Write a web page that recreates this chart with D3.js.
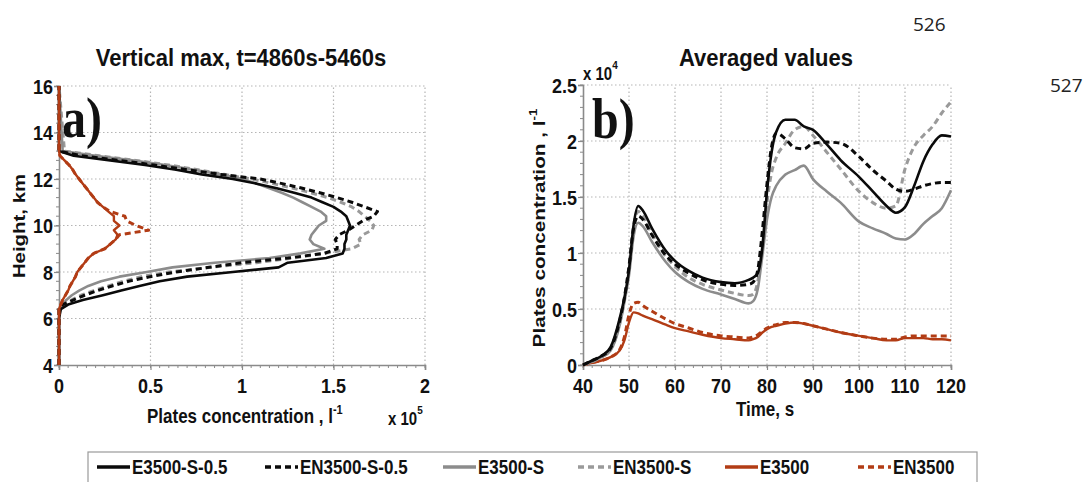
<!DOCTYPE html>
<html>
<head>
<meta charset="utf-8">
<script src="https://cdn.jsdelivr.net/npm/d3@7"></script>
<style>
  html, body { margin: 0; padding: 0; background: #fff; }
  svg { display: block; }
  .bold-sans { font-family: "Liberation Sans", Arial, sans-serif; font-weight: bold; fill: #111; }
  .panel-tag { font-family: "Liberation Serif", "Times New Roman", serif; font-weight: bold; font-size: 48px; fill: #111; }
  .page-num { font-family: "Open Sans", "Liberation Sans", sans-serif; font-size: 19px; fill: #222; }
</style>
</head>
<body>
<svg id="chart" width="1089" height="482"></svg>
<script>
// ---- Panel a: vertical profiles of plate concentration (x 1e5 per litre) ----
const heightsKm = [4, 6, 6.4, 6.6, 6.8, 7.0, 7.2, 7.4, 7.6, 7.8, 8.0, 8.2, 8.4, 8.6, 8.8, 9.0, 9.2, 9.4, 9.6, 9.8,
                   10.0, 10.2, 10.4, 10.6, 10.8, 11.0, 11.2, 11.4, 11.6, 11.8, 12.0, 12.2, 12.4, 12.6, 12.8, 13.0, 13.2, 16];

const profE3500S05  = [0, 0, 0.01, 0.05, 0.13, 0.24, 0.34, 0.44, 0.55, 0.7, 0.95, 1.2, 1.25, 1.46, 1.55, 1.56, 1.56, 1.57, 1.57, 1.58,
                       1.59, 1.58, 1.57, 1.54, 1.5, 1.44, 1.38, 1.29, 1.19, 1.08, 0.95, 0.78, 0.64, 0.47, 0.28, 0.08, 0, 0];
const profEN3500S05 = [0, 0, 0, 0.02, 0.08, 0.14, 0.21, 0.29, 0.38, 0.5, 0.64, 0.82, 1.0, 1.25, 1.45, 1.52, 1.52, 1.51, 1.53, 1.58,
                       1.62, 1.66, 1.72, 1.74, 1.67, 1.6, 1.52, 1.43, 1.33, 1.22, 1.1, 0.88, 0.7, 0.52, 0.33, 0.12, 0, 0];
const profE3500S    = [0, 0, 0, 0.02, 0.04, 0.07, 0.11, 0.16, 0.23, 0.33, 0.48, 0.62, 0.85, 1.15, 1.32, 1.45, 1.39, 1.37, 1.38, 1.4,
                       1.42, 1.46, 1.46, 1.43, 1.38, 1.33, 1.28, 1.22, 1.15, 1.08, 1.0, 0.88, 0.74, 0.58, 0.4, 0.2, 0.02, 0];
const profEN3500S   = [0, 0, 0, 0.03, 0.07, 0.12, 0.19, 0.27, 0.35, 0.45, 0.6, 0.83, 1.08, 1.28, 1.45, 1.6, 1.65, 1.64, 1.66, 1.71,
                       1.72, 1.7, 1.67, 1.64, 1.6, 1.54, 1.47, 1.38, 1.28, 1.17, 1.05, 0.9, 0.76, 0.6, 0.42, 0.22, 0.03, 0];
const profE3500     = [0, 0, 0, 0.01, 0.02, 0.035, 0.05, 0.06, 0.075, 0.09, 0.1, 0.12, 0.14, 0.16, 0.19, 0.25, 0.28, 0.31, 0.32, 0.3,
                       0.33, 0.3, 0.3, 0.27, 0.24, 0.21, 0.19, 0.17, 0.15, 0.13, 0.11, 0.09, 0.075, 0.055, 0.03, 0.005, 0, 0];
const profEN3500    = [0, 0, 0, 0.01, 0.02, 0.035, 0.05, 0.06, 0.075, 0.09, 0.1, 0.12, 0.14, 0.16, 0.19, 0.25, 0.28, 0.31, 0.33, 0.49,
                       0.42, 0.37, 0.36, 0.28, 0.24, 0.21, 0.19, 0.17, 0.15, 0.13, 0.11, 0.09, 0.075, 0.055, 0.03, 0.005, 0, 0];

// ---- Panel b: domain-averaged plate concentration (x 1e4 per litre) vs time ----
const timeSec = [40, 42, 44, 46, 48, 49, 50, 51, 52, 53, 55, 58, 60, 63, 66, 70, 73, 76, 77, 78,
                 79, 80, 81, 82, 84, 86, 88, 90, 93, 96, 100, 103, 106, 108, 110, 112, 114, 116, 118, 120];

const avgE3500S05  = [0, 0.04, 0.08, 0.16, 0.42, 0.6, 0.85, 1.25, 1.42, 1.38, 1.22, 1.02, 0.93, 0.84, 0.78, 0.74, 0.73, 0.76, 0.78, 0.82,
                      1.05, 1.55, 1.9, 2.08, 2.19, 2.19, 2.13, 2.1, 1.97, 1.83, 1.68, 1.55, 1.42, 1.36, 1.41, 1.6, 1.82, 1.97, 2.05, 2.04];
const avgEN3500S05 = [0, 0.04, 0.08, 0.15, 0.4, 0.6, 0.88, 1.22, 1.33, 1.3, 1.16, 0.98, 0.9, 0.82, 0.76, 0.72, 0.71, 0.72, 0.74, 0.85,
                      1.2, 1.62, 1.95, 2.07, 2.02, 1.94, 1.93, 1.98, 1.99, 1.98, 1.86, 1.74, 1.64, 1.57, 1.55, 1.57, 1.6, 1.62, 1.63, 1.63];
const avgE3500S    = [0, 0.03, 0.07, 0.13, 0.36, 0.56, 0.8, 1.15, 1.27, 1.24, 1.1, 0.92, 0.83, 0.74, 0.68, 0.63, 0.59, 0.55, 0.57, 0.68,
                      0.98, 1.3, 1.5, 1.6, 1.7, 1.74, 1.78, 1.66, 1.55, 1.45, 1.28, 1.22, 1.17, 1.13, 1.12, 1.17, 1.26, 1.33, 1.4, 1.56];
const avgEN3500S   = [0, 0.03, 0.07, 0.14, 0.38, 0.6, 0.88, 1.25, 1.37, 1.33, 1.17, 0.97, 0.88, 0.78, 0.72, 0.67, 0.64, 0.62, 0.63, 0.75,
                      1.05, 1.45, 1.72, 1.85, 1.98, 2.1, 2.13, 2.05, 1.9, 1.75, 1.55, 1.45, 1.4, 1.42, 1.75, 1.95, 2.05, 2.13, 2.25, 2.35];
const avgE3500     = [0, 0.02, 0.04, 0.07, 0.13, 0.22, 0.38, 0.47, 0.46, 0.44, 0.41, 0.36, 0.33, 0.3, 0.27, 0.24, 0.23, 0.22, 0.23, 0.25,
                      0.29, 0.32, 0.34, 0.35, 0.37, 0.38, 0.37, 0.35, 0.32, 0.29, 0.26, 0.24, 0.22, 0.22, 0.24, 0.24, 0.24, 0.23, 0.23, 0.22];
const avgEN3500    = [0, 0.02, 0.04, 0.07, 0.14, 0.25, 0.45, 0.55, 0.56, 0.53, 0.48, 0.41, 0.37, 0.33, 0.29, 0.26, 0.25, 0.24, 0.25, 0.27,
                      0.3, 0.33, 0.35, 0.36, 0.38, 0.38, 0.37, 0.35, 0.32, 0.29, 0.26, 0.24, 0.23, 0.23, 0.25, 0.26, 0.26, 0.26, 0.26, 0.26];

// ---- Tick values ----
const ticksAx = [0, 0.5, 1, 1.5, 2];
const ticksAy = [4, 6, 8, 10, 12, 14, 16];
const ticksBx = [40, 50, 60, 70, 80, 90, 100, 110, 120];
const ticksBy = [0, 0.5, 1, 1.5, 2, 2.5];

// ---- Series names and styling ----
const seriesNames = ["E3500-S-0.5", "EN3500-S-0.5", "E3500-S", "EN3500-S", "E3500", "EN3500"];
const seriesStyle = {
  "E3500-S-0.5":  { color: "#0a0a0a", dash: null,  width: 2.6 },
  "EN3500-S-0.5": { color: "#0a0a0a", dash: "6,4", width: 3 },
  "E3500-S":      { color: "#8c8c8c", dash: null,  width: 2.6 },
  "EN3500-S":     { color: "#9a9a9a", dash: "6,4", width: 3 },
  "E3500":        { color: "#b23c15", dash: null,  width: 2.4 },
  "EN3500":       { color: "#b23c15", dash: "6,4", width: 3 }
};
const profiles = {
  "E3500-S-0.5": profE3500S05, "EN3500-S-0.5": profEN3500S05, "E3500-S": profE3500S,
  "EN3500-S": profEN3500S, "E3500": profE3500, "EN3500": profEN3500
};
const averages = {
  "E3500-S-0.5": avgE3500S05, "EN3500-S-0.5": avgEN3500S05, "E3500-S": avgE3500S,
  "EN3500-S": avgEN3500S, "E3500": avgE3500, "EN3500": avgEN3500
};
// red profile sits on top in panel a (it runs along the zero axis)
const drawOrderA = ["EN3500-S", "E3500-S", "EN3500-S-0.5", "E3500-S-0.5", "EN3500", "E3500"];
const drawOrderB = ["E3500", "EN3500", "EN3500-S", "E3500-S", "EN3500-S-0.5", "E3500-S-0.5"];

const svg = d3.select("#chart");

const gridColor = "#b5b5b5";
const axisColor = "#8a8a8a";
const STRETCH = 1.18; // vertical stretch of lettering

// Bold sans text, stretched vertically
function hText(x, y, size, anchor, sy) {
  return svg.append("text").attr("class", "bold-sans")
    .attr("font-size", size)
    .attr("text-anchor", anchor)
    .attr("transform", `translate(${x},${y}) scale(1,${sy})`);
}
// Bold sans text rotated to read bottom-to-top, stretched along its length
function vText(x, y, size, sx) {
  return svg.append("text").attr("class", "bold-sans")
    .attr("font-size", size)
    .attr("text-anchor", "middle")
    .attr("transform", `translate(${x},${y}) rotate(-90) scale(${sx},1)`);
}

function drawFrame(x, y, xTicks, yTicks, xMinorStep, yMinorStep) {
  const g = svg.append("g");
  const [x0, x1] = x.range();
  const [y0, y1] = y.range();
  // dotted grid, including the top and right borders
  g.selectAll(".gx").data(xTicks.slice(1)).join("line")
    .attr("x1", d => x(d)).attr("x2", d => x(d)).attr("y1", y0).attr("y2", y1)
    .attr("stroke", gridColor).attr("stroke-width", 1.2).attr("stroke-dasharray", "1.5,2.5");
  g.selectAll(".gy").data(yTicks.slice(1)).join("line")
    .attr("x1", x0).attr("x2", x1).attr("y1", d => y(d)).attr("y2", d => y(d))
    .attr("stroke", gridColor).attr("stroke-width", 1.2).attr("stroke-dasharray", "1.5,2.5");

  // minor ticks
  const xd = x.domain(), yd = y.domain();
  const xMinor = d3.range(xd[0], xd[1] + xMinorStep / 2, xMinorStep);
  const yMinor = d3.range(yd[0], yd[1] + yMinorStep / 2, yMinorStep);
  g.selectAll(".mx").data(xMinor).join("line")
    .attr("x1", d => x(d)).attr("x2", d => x(d)).attr("y1", y0).attr("y2", y0 + 3)
    .attr("stroke", axisColor).attr("stroke-width", 1);
  g.selectAll(".my").data(yMinor).join("line")
    .attr("x1", x0 - 3).attr("x2", x0).attr("y1", d => y(d)).attr("y2", d => y(d))
    .attr("stroke", axisColor).attr("stroke-width", 1);

  // axes with major ticks; labels drawn separately below
  const xAxis = svg.append("g").attr("transform", `translate(0,${y0})`)
    .call(d3.axisBottom(x).tickValues(xTicks).tickSize(5));
  const yAxis = svg.append("g").attr("transform", `translate(${x0},0)`)
    .call(d3.axisLeft(y).tickValues(yTicks).tickSize(5));
  [xAxis, yAxis].forEach(a => {
    a.select(".domain").attr("stroke", axisColor).attr("stroke-width", 1.6);
    a.selectAll(".tick line").attr("stroke", axisColor).attr("stroke-width", 1.2);
    a.selectAll(".tick text").remove();
  });

  xTicks.forEach(d => hText(x(d), y0 + 28, 18, "middle", 1.15).text(String(d)));
  yTicks.forEach(d => hText(x0 - 6, y(d) + 7.5, 18, "end", 1.15).text(String(d)));
}

// ---------------- Panel a ----------------
const xA = d3.scaleLinear().domain([0, 2]).range([59, 425]);
const yA = d3.scaleLinear().domain([4, 16]).range([365, 86]);
drawFrame(xA, yA, ticksAx, ticksAy, 0.05, 0.4);

const profileLine = d3.line()
  .x(d => xA(d[1]))
  .y(d => yA(d[0]));

const gA = svg.append("g");
drawOrderA.forEach(name => {
  const st = seriesStyle[name];
  gA.append("path")
    .datum(heightsKm.map((h, i) => [h, profiles[name][i]]))
    .attr("d", profileLine)
    .attr("fill", "none")
    .attr("stroke", st.color)
    .attr("stroke-width", st.width)
    .attr("stroke-dasharray", st.dash)
    .attr("stroke-linejoin", "round");
});

hText(241, 66, 22, "middle", 1.1).text("Vertical max, t=4860s-5460s");
svg.append("text").attr("class", "panel-tag")
  .attr("transform", "translate(62,137) scale(1,1.2)").text("a)");
vText(25, 226, 17, 1.2).text("Height, km");
const xlabA = hText(147, 423, 17, "start", STRETCH);
xlabA.append("tspan").text("Plates concentration , l");
xlabA.append("tspan").attr("dy", -8).attr("font-size", 11).text("-1");
const expA = hText(388, 425, 15, "start", STRETCH);
expA.append("tspan").text("x 10");
expA.append("tspan").attr("dy", -9).attr("font-size", 10).text("5");

// ---------------- Panel b ----------------
const xB = d3.scaleLinear().domain([40, 120]).range([583, 951]);
const yB = d3.scaleLinear().domain([0, 2.5]).range([365, 85]);
drawFrame(xB, yB, ticksBx, ticksBy, 2, 0.1);

const timeLine = d3.line()
  .x(d => xB(d[0]))
  .y(d => yB(d[1]))
  .curve(d3.curveMonotoneX);

const gB = svg.append("g");
drawOrderB.forEach(name => {
  const st = seriesStyle[name];
  gB.append("path")
    .datum(timeSec.map((t, i) => [t, averages[name][i]]))
    .attr("d", timeLine)
    .attr("fill", "none")
    .attr("stroke", st.color)
    .attr("stroke-width", st.width)
    .attr("stroke-dasharray", st.dash)
    .attr("stroke-linejoin", "round");
});

hText(766, 66, 22, "middle", 1.1).text("Averaged values");
svg.append("text").attr("class", "panel-tag")
  .attr("transform", "translate(592,138) scale(1,1.2)").text("b)");
const ylabB = vText(545, 228, 17, 1.22);
ylabB.append("tspan").text("Plates concentration , l");
ylabB.append("tspan").attr("dy", -8).attr("font-size", 11).text("-1");
hText(765, 416, 17, "middle", STRETCH).text("Time, s");
const expB = hText(583, 80, 15, "start", STRETCH);
expB.append("tspan").text("x 10");
expB.append("tspan").attr("dy", -9).attr("font-size", 10).text("4");

// ---------------- Legend ----------------
const legendX = [97, 265, 443, 578, 725, 858];
svg.append("rect").attr("x", 88).attr("y", 452).attr("width", 889).attr("height", 40)
  .attr("fill", "#fff").attr("stroke", "#9a9a9a").attr("stroke-width", 1.2);
const lg = svg.append("g").selectAll("g").data(seriesNames).join("g")
  .attr("transform", (d, i) => `translate(${legendX[i]},467)`);
lg.append("line").attr("x1", 0).attr("x2", 33).attr("y1", 0).attr("y2", 0)
  .attr("stroke", d => seriesStyle[d].color)
  .attr("stroke-width", 3.5)
  .attr("stroke-dasharray", d => seriesStyle[d].dash ? "6,4" : null);
lg.append("text").attr("class", "bold-sans").attr("font-size", 17)
  .attr("transform", "translate(35,6.5) scale(1,1.15)").text(d => d);

// ---------------- Page line numbers ----------------
svg.append("text").attr("class", "page-num").attr("x", 913).attr("y", 31).text("526");
svg.append("text").attr("class", "page-num").attr("x", 1050).attr("y", 92).text("527");
</script>
</body>
</html>
